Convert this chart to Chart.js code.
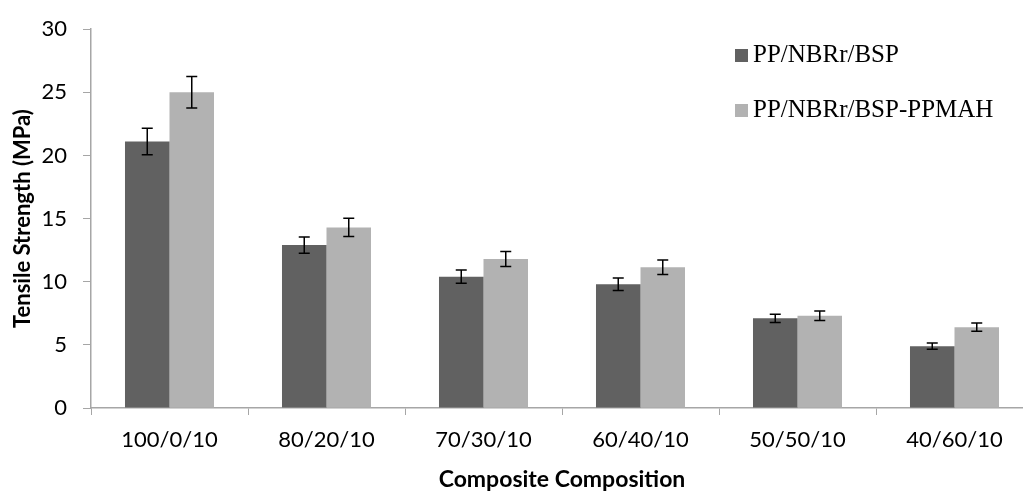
<!DOCTYPE html>
<html>
<head>
<meta charset="utf-8">
<script src="https://cdn.jsdelivr.net/npm/chart.js@4.4.1/dist/chart.umd.min.js"></script>
<style>
  html, body { margin: 0; padding: 0; background: #fff; overflow: hidden; width: 1023px; height: 494px; }
  #wrap { position: relative; width: 1023px; height: 494px; overflow: hidden; }
  canvas { display: block; }
</style>
</head>
<body>
<div id="wrap"><canvas id="c" width="1040" height="494"></canvas></div>
<script>
const categories = ['100/0/10', '80/20/10', '70/30/10', '60/40/10', '50/50/10', '40/60/10'];
const seriesNames = ['PP/NBRr/BSP', 'PP/NBRr/BSP-PPMAH'];
const valuesBSP = [21.1, 12.9, 10.4, 9.8, 7.1, 4.9];
const valuesPPMAH = [25.0, 14.3, 11.8, 11.15, 7.3, 6.4];
const errorsBSP = [1.05, 0.65, 0.52, 0.49, 0.33, 0.25];
const errorsPPMAH = [1.25, 0.72, 0.6, 0.57, 0.38, 0.33];
const yTicks = [0, 5, 10, 15, 20, 25, 30];
const xTitle = 'Composite Composition';
const yTitle = 'Tensile Strength (MPa)';

const colors = ['#616161', '#b2b2b2'];
const errorArrays = [errorsBSP, errorsPPMAH];

const errorBarPlugin = {
  id: 'errorBars',
  afterDatasetsDraw(chart) {
    const ctx = chart.ctx;
    const y = chart.scales.y;
    ctx.save();
    ctx.strokeStyle = '#000';
    ctx.lineWidth = 1.5;
    chart.data.datasets.forEach((ds, di) => {
      const meta = chart.getDatasetMeta(di);
      const errs = errorArrays[di];
      meta.data.forEach((bar, i) => {
        const v = ds.data[i];
        const e = errs[i];
        const x = bar.x;
        const yTop = y.getPixelForValue(v + e);
        const yBot = y.getPixelForValue(v - e);
        const hw = 5.5;
        ctx.beginPath();
        ctx.moveTo(x, yTop); ctx.lineTo(x, yBot);
        ctx.moveTo(x - hw, yTop); ctx.lineTo(x + hw, yTop);
        ctx.moveTo(x - hw, yBot); ctx.lineTo(x + hw, yBot);
        ctx.stroke();
      });
    });
    ctx.restore();
  }
};

const legendPlugin = {
  id: 'customLegend',
  afterDraw(chart) {
    const ctx = chart.ctx;
    ctx.save();
    ctx.font = '25px "Liberation Serif", "Times New Roman", serif';
    ctx.textBaseline = 'alphabetic';
    ctx.textAlign = 'left';
    chart.data.datasets.forEach((ds, i) => {
      const rowY = 62 + i * 55;
      ctx.fillStyle = ds.backgroundColor;
      ctx.fillRect(735, rowY - 13, 13, 13);
      ctx.fillStyle = '#000';
      ctx.fillText(ds.label, 753, rowY);
    });
    ctx.restore();
  }
};

const tickFont = { family: 'Lato', size: 22 };
const yTitleFont = { family: 'Lato', size: 22, weight: 'bold' };
const xTitleFont = { family: 'Lato', size: 23, weight: 'bold' };

new Chart(document.getElementById('c'), {
  type: 'bar',
  data: {
    labels: categories,
    datasets: [
      { label: seriesNames[0], data: valuesBSP, backgroundColor: colors[0], categoryPercentage: 0.567, barPercentage: 1.0 },
      { label: seriesNames[1], data: valuesPPMAH, backgroundColor: colors[1], categoryPercentage: 0.567, barPercentage: 1.0 }
    ]
  },
  options: {
    responsive: false,
    animation: false,
    devicePixelRatio: 1,
    layout: { padding: { left: 0, top: 20, right: 7, bottom: 0 } },
    plugins: { legend: { display: false }, tooltip: { enabled: false } },
    scales: {
      x: {
        offset: true,
        grid: { display: true, offset: true, drawOnChartArea: false, drawTicks: true, tickLength: 7, color: '#a6a6a6', lineWidth: 1 },
        border: { display: true, color: '#a6a6a6', width: 1.5 },
        ticks: { font: tickFont, color: '#000', padding: 12, maxRotation: 0, autoSkip: false },
        title: { display: true, text: xTitle, font: xTitleFont, color: '#000', padding: { top: 0, bottom: 1 } },
        afterFit(scale) { scale.height = 86; }
      },
      y: {
        min: 0, max: 30,
        afterBuildTicks(scale) { scale.ticks = yTicks.map(v => ({ value: v })); },
        grid: { display: true, drawOnChartArea: false, drawTicks: true, tickLength: 8, color: '#a6a6a6', lineWidth: 1 },
        border: { display: true, color: '#a6a6a6', width: 1.5 },
        ticks: { font: tickFont, color: '#000', padding: 16 },
        title: { display: true, text: yTitle, font: yTitleFont, color: '#000', padding: { top: 10, bottom: 0 } },
        afterFit(scale) { scale.width = 91; }
      }
    }
  },
  plugins: [errorBarPlugin, legendPlugin]
});
</script>
</body>
</html>
